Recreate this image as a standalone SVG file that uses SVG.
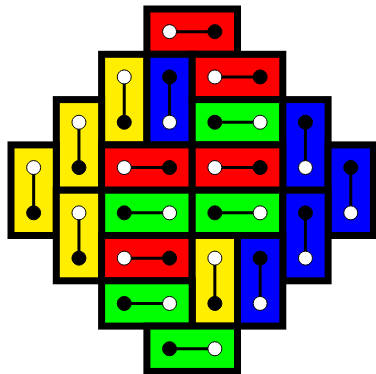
<svg xmlns="http://www.w3.org/2000/svg" width="376" height="374" viewBox="0 0 376 374">
<style>
.t{stroke:#000;stroke-width:7;stroke-linejoin:miter}
.r{fill:#ff0000}.y{fill:#ffee00}.g{fill:#00ff00}.b{fill:#0000ff}
.c line{stroke:#000;stroke-width:3}
.w{fill:#fff;stroke:#000;stroke-width:1}
.k{fill:#000;stroke:#000;stroke-width:1}
</style>
<rect width="376" height="374" fill="#fff"/>
<g id="tiles">
<g id="d1"><rect class="t r" x="146.9" y="9" width="90.6" height="45.3"/></g>
<g id="d2"><rect class="t y" x="101.6" y="54.3" width="45.3" height="90.6"/></g>
<g id="d3"><rect class="t b" x="146.9" y="54.3" width="45.3" height="90.6"/></g>
<g id="d4"><rect class="t r" x="192.2" y="54.3" width="90.6" height="45.3"/></g>
<g id="d5"><rect class="t g" x="192.2" y="99.6" width="90.6" height="45.3"/></g>
<g id="d6"><rect class="t y" x="56.3" y="99.6" width="45.3" height="90.6"/></g>
<g id="d7"><rect class="t b" x="282.8" y="99.6" width="45.3" height="90.6"/></g>
<g id="d8"><rect class="t r" x="101.6" y="144.9" width="90.6" height="45.3"/></g>
<g id="d9"><rect class="t r" x="192.2" y="144.9" width="90.6" height="45.3"/></g>
<g id="d10"><rect class="t y" x="11" y="144.9" width="45.3" height="90.6"/></g>
<g id="d11"><rect class="t b" x="328.1" y="144.9" width="45.3" height="90.6"/></g>
<g id="d12"><rect class="t g" x="101.6" y="190.2" width="90.6" height="45.3"/></g>
<g id="d13"><rect class="t g" x="192.2" y="190.2" width="90.6" height="45.3"/></g>
<g id="d14"><rect class="t y" x="56.3" y="190.2" width="45.3" height="90.6"/></g>
<g id="d15"><rect class="t b" x="282.8" y="190.2" width="45.3" height="90.6"/></g>
<g id="d16"><rect class="t r" x="101.6" y="235.5" width="90.6" height="45.3"/></g>
<g id="d17"><rect class="t y" x="192.2" y="235.5" width="45.3" height="90.6"/></g>
<g id="d18"><rect class="t b" x="237.5" y="235.5" width="45.3" height="90.6"/></g>
<g id="d19"><rect class="t g" x="101.6" y="280.8" width="90.6" height="45.3"/></g>
<g id="d20"><rect class="t g" x="146.9" y="326.1" width="90.6" height="45.3"/></g>
</g>
<g id="connectors" class="c">
<line x1="169.55" y1="31.65" x2="214.85" y2="31.65"/>
<line x1="124.25" y1="76.95" x2="124.25" y2="122.25"/>
<line x1="169.55" y1="76.95" x2="169.55" y2="122.25"/>
<line x1="214.85" y1="76.95" x2="260.15" y2="76.95"/>
<line x1="214.85" y1="122.25" x2="260.15" y2="122.25"/>
<line x1="78.95" y1="122.25" x2="78.95" y2="167.55"/>
<line x1="305.45" y1="122.25" x2="305.45" y2="167.55"/>
<line x1="124.25" y1="167.55" x2="169.55" y2="167.55"/>
<line x1="214.85" y1="167.55" x2="260.15" y2="167.55"/>
<line x1="33.65" y1="167.55" x2="33.65" y2="212.85"/>
<line x1="350.75" y1="167.55" x2="350.75" y2="212.85"/>
<line x1="124.25" y1="212.85" x2="169.55" y2="212.85"/>
<line x1="214.85" y1="212.85" x2="260.15" y2="212.85"/>
<line x1="78.95" y1="212.85" x2="78.95" y2="258.15"/>
<line x1="305.45" y1="212.85" x2="305.45" y2="258.15"/>
<line x1="124.25" y1="258.15" x2="169.55" y2="258.15"/>
<line x1="214.85" y1="258.15" x2="214.85" y2="303.45"/>
<line x1="260.15" y1="258.15" x2="260.15" y2="303.45"/>
<line x1="124.25" y1="303.45" x2="169.55" y2="303.45"/>
<line x1="169.55" y1="348.75" x2="214.85" y2="348.75"/>
</g>
<g id="dots">
<g id="n1"><circle class="w" cx="169.55" cy="31.65" r="7"/><circle class="k" cx="214.85" cy="31.65" r="7"/></g>
<g id="n2"><circle class="w" cx="124.25" cy="76.95" r="7"/><circle class="k" cx="124.25" cy="122.25" r="7"/></g>
<g id="n3"><circle class="k" cx="169.55" cy="76.95" r="7"/><circle class="w" cx="169.55" cy="122.25" r="7"/></g>
<g id="n4"><circle class="w" cx="214.85" cy="76.95" r="7"/><circle class="k" cx="260.15" cy="76.95" r="7"/></g>
<g id="n5"><circle class="k" cx="214.85" cy="122.25" r="7"/><circle class="w" cx="260.15" cy="122.25" r="7"/></g>
<g id="n6"><circle class="w" cx="78.95" cy="122.25" r="7"/><circle class="k" cx="78.95" cy="167.55" r="7"/></g>
<g id="n7"><circle class="k" cx="305.45" cy="122.25" r="7"/><circle class="w" cx="305.45" cy="167.55" r="7"/></g>
<g id="n8"><circle class="w" cx="124.25" cy="167.55" r="7"/><circle class="k" cx="169.55" cy="167.55" r="7"/></g>
<g id="n9"><circle class="w" cx="214.85" cy="167.55" r="7"/><circle class="k" cx="260.15" cy="167.55" r="7"/></g>
<g id="n10"><circle class="w" cx="33.65" cy="167.55" r="7"/><circle class="k" cx="33.65" cy="212.85" r="7"/></g>
<g id="n11"><circle class="k" cx="350.75" cy="167.55" r="7"/><circle class="w" cx="350.75" cy="212.85" r="7"/></g>
<g id="n12"><circle class="k" cx="124.25" cy="212.85" r="7"/><circle class="w" cx="169.55" cy="212.85" r="7"/></g>
<g id="n13"><circle class="k" cx="214.85" cy="212.85" r="7"/><circle class="w" cx="260.15" cy="212.85" r="7"/></g>
<g id="n14"><circle class="w" cx="78.95" cy="212.85" r="7"/><circle class="k" cx="78.95" cy="258.15" r="7"/></g>
<g id="n15"><circle class="k" cx="305.45" cy="212.85" r="7"/><circle class="w" cx="305.45" cy="258.15" r="7"/></g>
<g id="n16"><circle class="w" cx="124.25" cy="258.15" r="7"/><circle class="k" cx="169.55" cy="258.15" r="7"/></g>
<g id="n17"><circle class="w" cx="214.85" cy="258.15" r="7"/><circle class="k" cx="214.85" cy="303.45" r="7"/></g>
<g id="n18"><circle class="k" cx="260.15" cy="258.15" r="7"/><circle class="w" cx="260.15" cy="303.45" r="7"/></g>
<g id="n19"><circle class="k" cx="124.25" cy="303.45" r="7"/><circle class="w" cx="169.55" cy="303.45" r="7"/></g>
<g id="n20"><circle class="k" cx="169.55" cy="348.75" r="7"/><circle class="w" cx="214.85" cy="348.75" r="7"/></g>
</g>
</svg>
